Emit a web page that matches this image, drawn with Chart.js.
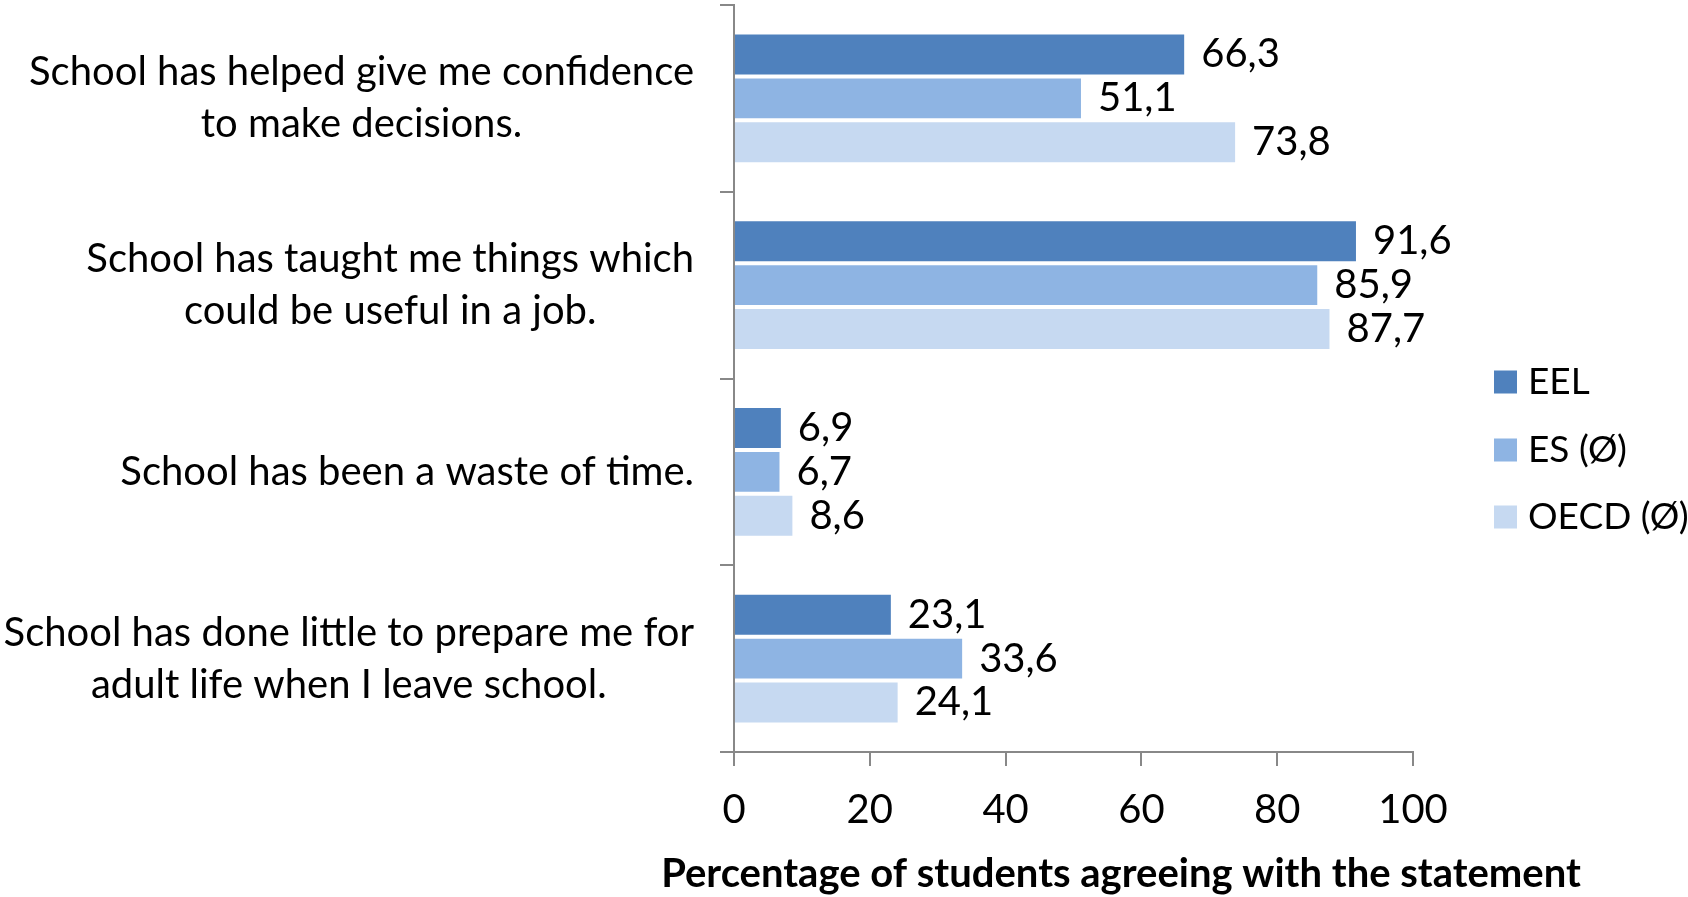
<!DOCTYPE html>
<html>
<head>
<meta charset="utf-8">
<title>School attitudes</title>
<script src="https://cdn.jsdelivr.net/npm/chart.js@4.4.1/dist/chart.umd.min.js"></script>
<style>
  html, body { margin: 0; padding: 0; background: #fff; }
  #chart-wrap { width: 1688px; height: 897px; }
</style>
</head>
<body>
<div id="chart-wrap"><canvas id="school-chart"></canvas></div>
<script>
// Data
const categories = [
  ['School has helped give me confidence', 'to make decisions.'],
  ['School has taught me things which', 'could be useful in a job.'],
  ['School has been a waste of time.'],
  ['School has done little to prepare me for', 'adult life when I leave school.']
];
const seriesNames = ['EEL', 'ES (Ø)', 'OECD (Ø)'];
const eelValues = [66.3, 91.6, 6.9, 23.1];
const esValues = [51.1, 85.9, 6.7, 33.6];
const oecdValues = [73.8, 87.7, 8.6, 24.1];
const xTickValues = [0, 20, 40, 60, 80, 100];
const xAxisTitle = 'Percentage of students agreeing with the statement';

// Styling
const FONT = 'Lato';
const FONT_SIZE = 40;
const LEGEND_FONT_SIZE = 37;
const AXIS_GREY = '#888888';
const seriesColors = ['#4F81BD', '#8EB4E3', '#C6D9F1'];

// Decimal comma, as in the original
function formatValue(v) {
  return v.toFixed(1).replace('.', ',');
}

// Category labels: block right aligned, lines centred inside the block
const categoryLabelPlugin = {
  id: 'categoryLabels',
  afterDraw(chart) {
    const ctx = chart.ctx;
    const yScale = chart.scales.y;
    const right = 694;
    const lineHeight = 52;
    ctx.save();
    ctx.font = FONT_SIZE + 'px ' + FONT;
    ctx.fillStyle = '#000';
    ctx.textAlign = 'center';
    ctx.textBaseline = 'middle';
    categories.forEach((lines, i) => {
      const blockWidth = Math.max(...lines.map(l => ctx.measureText(l).width));
      const cx = right - blockWidth / 2;
      const cy = yScale.getPixelForValue(i);
      const startY = cy - (lines.length - 1) * lineHeight / 2;
      lines.forEach((line, k) => ctx.fillText(line, cx, startY + k * lineHeight));
    });
    ctx.restore();
  }
};

// Value labels next to each bar
const valueLabelPlugin = {
  id: 'valueLabels',
  afterDatasetsDraw(chart) {
    const ctx = chart.ctx;
    ctx.save();
    ctx.font = FONT_SIZE + 'px ' + FONT;
    ctx.fillStyle = '#000';
    ctx.textAlign = 'left';
    ctx.textBaseline = 'middle';
    chart.data.datasets.forEach((ds, i) => {
      chart.getDatasetMeta(i).data.forEach((bar, j) => {
        ctx.fillText(formatValue(ds.data[j]), bar.x + 17, bar.y);
      });
    });
    ctx.restore();
  }
};

// Legend on the right and the x axis title
const sideTextPlugin = {
  id: 'sideText',
  afterDraw(chart) {
    const ctx = chart.ctx;
    const boxX = 1494;
    const boxSize = 23;
    const textX = 1528;
    const rowCenters = [382, 450, 517];
    ctx.save();
    ctx.font = LEGEND_FONT_SIZE + 'px ' + FONT;
    ctx.textBaseline = 'middle';
    ctx.textAlign = 'left';
    seriesNames.forEach((name, i) => {
      ctx.fillStyle = seriesColors[i];
      ctx.fillRect(boxX, rowCenters[i] - boxSize / 2, boxSize, boxSize);
      ctx.fillStyle = '#000';
      ctx.fillText(name, textX, rowCenters[i]);
    });

    ctx.font = 'bold ' + FONT_SIZE + 'px ' + FONT;
    ctx.textAlign = 'center';
    ctx.fillText(xAxisTitle, 1121, 874);
    ctx.restore();
  }
};

function buildChart() {
  const ctx = document.getElementById('school-chart').getContext('2d');
  const values = [eelValues, esValues, oecdValues];

  new Chart(ctx, {
    type: 'bar',
    data: {
      labels: categories.map(c => c.join(' ')),
      datasets: seriesNames.map((name, i) => ({
        label: name,
        data: values[i],
        backgroundColor: seriesColors[i],
        borderWidth: 0,
        categoryPercentage: 0.706,
        barPercentage: 0.91
      }))
    },
    options: {
      indexAxis: 'y',
      responsive: true,
      maintainAspectRatio: false,
      animation: false,
      layout: { padding: { top: 5, right: 275, left: 0, bottom: 0 } },
      plugins: {
        legend: { display: false },
        tooltip: { enabled: false }
      },
      scales: {
        x: {
          min: 0,
          max: 100,
          afterBuildTicks(scale) {
            scale.ticks = xTickValues.map(v => ({ value: v }));
          },
          afterFit(scale) {
            scale.height = 145;
          },
          grid: {
            drawOnChartArea: false,
            tickLength: 14,
            color: AXIS_GREY,
            lineWidth: 2
          },
          border: { color: AXIS_GREY, width: 2 },
          ticks: {
            font: { family: FONT, size: FONT_SIZE },
            color: '#000',
            padding: 20,
            maxRotation: 0
          }
        },
        y: {
          afterFit(scale) {
            scale.width = 734;
          },
          grid: {
            drawOnChartArea: false,
            offset: true,
            tickLength: 14,
            color: AXIS_GREY,
            lineWidth: 2
          },
          border: { color: AXIS_GREY, width: 2 },
          ticks: { display: false }
        }
      }
    },
    plugins: [categoryLabelPlugin, valueLabelPlugin, sideTextPlugin]
  });
}

// Wait for the local fonts before drawing
Promise.all([
  document.fonts.load(FONT_SIZE + 'px ' + FONT),
  document.fonts.load('bold ' + FONT_SIZE + 'px ' + FONT),
  document.fonts.load(LEGEND_FONT_SIZE + 'px ' + FONT)
]).then(buildChart, buildChart);
</script>
</body>
</html>
